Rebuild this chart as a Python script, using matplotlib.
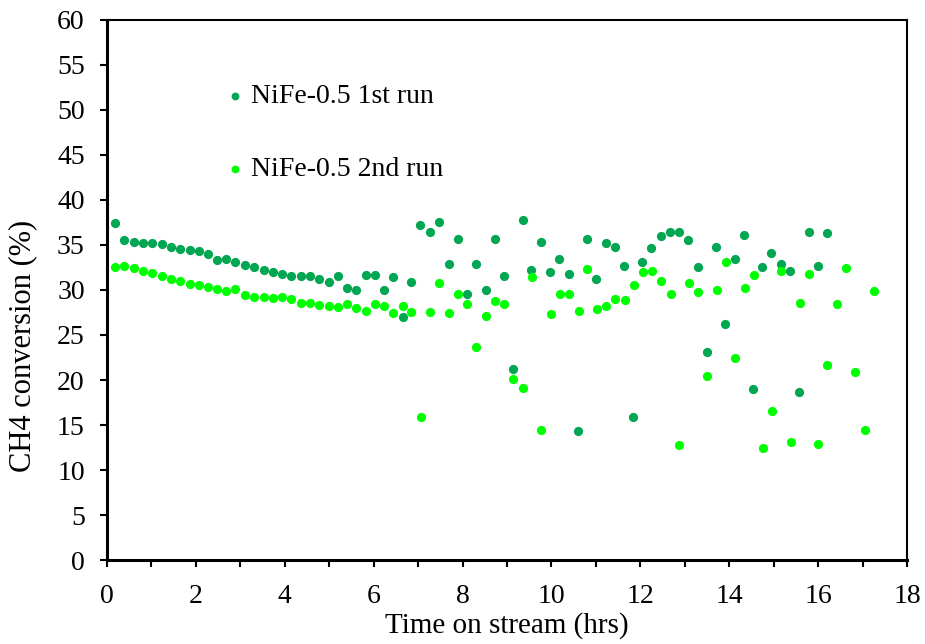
import matplotlib
matplotlib.use('Agg')
from matplotlib import pyplot as plt
from matplotlib.ticker import MultipleLocator

# time on stream (hrs) and CH4 conversion (%)
time_run1 = [0.18, 0.39, 0.60, 0.81, 1.02, 1.23, 1.44, 1.65, 1.86, 2.07,
             2.27, 2.48, 2.68, 2.89, 3.10, 3.31, 3.53, 3.74, 3.94, 4.15,
             4.37, 4.57, 4.78, 4.99, 5.19, 5.40, 5.61, 5.82, 6.03, 6.23,
             6.44, 6.65, 6.85, 7.05, 7.27, 7.48, 7.69, 7.89, 8.10, 8.31,
             8.52, 8.73, 8.93, 9.14, 9.35, 9.55, 9.77, 9.97, 10.18, 10.39,
             10.59, 10.80, 11.01, 11.22, 11.43, 11.63, 11.83, 12.04, 12.25, 12.46,
             12.67, 12.88, 13.08, 13.30, 13.50, 13.70, 13.91, 14.12, 14.33, 14.54,
             14.74, 14.95, 15.17, 15.37, 15.58, 15.79, 16.00, 16.21]
conv_run1 = [37.4, 35.5, 35.3, 35.2, 35.2, 35.1, 34.8, 34.6, 34.4, 34.3,
             34.0, 33.3, 33.4, 33.1, 32.8, 32.6, 32.2, 32.0, 31.8, 31.6,
             31.6, 31.5, 31.2, 30.9, 31.6, 30.2, 30.0, 31.7, 31.7, 30.0,
             31.4, 27.0, 30.9, 37.2, 36.4, 37.6, 32.9, 35.7, 29.5, 32.9,
             30.0, 35.7, 31.6, 21.2, 37.8, 32.2, 35.3, 32.0, 33.4, 31.8,
             14.3, 35.7, 31.2, 35.2, 34.8, 32.7, 15.9, 33.1, 34.7, 36.0,
             36.4, 36.4, 35.6, 32.6, 23.1, 34.8, 26.2, 33.4, 36.1, 19.0,
             32.6, 34.1, 32.9, 32.1, 18.7, 36.4, 32.7, 36.3]

time_run2 = [0.18, 0.39, 0.60, 0.81, 1.02, 1.23, 1.44, 1.65, 1.86, 2.07,
             2.27, 2.48, 2.68, 2.89, 3.10, 3.31, 3.53, 3.74, 3.94, 4.15,
             4.37, 4.57, 4.78, 4.99, 5.19, 5.40, 5.61, 5.82, 6.03, 6.23,
             6.44, 6.65, 6.85, 7.06, 7.27, 7.48, 7.69, 7.90, 8.11, 8.31,
             8.52, 8.73, 8.94, 9.14, 9.35, 9.56, 9.77, 9.98, 10.19, 10.40,
             10.61, 10.81, 11.02, 11.23, 11.44, 11.65, 11.86, 12.06, 12.27, 12.47,
             12.68, 12.88, 13.10, 13.30, 13.51, 13.72, 13.93, 14.14, 14.35, 14.55,
             14.76, 14.96, 15.17, 15.38, 15.59, 15.80, 16.00, 16.21, 16.42, 16.63,
             16.84, 17.05, 17.25]
conv_run2 = [32.6, 32.7, 32.4, 32.1, 31.9, 31.5, 31.2, 31.0, 30.7, 30.5,
             30.3, 30.1, 29.9, 30.1, 29.4, 29.2, 29.2, 29.1, 29.2, 29.0,
             28.6, 28.6, 28.3, 28.2, 28.1, 28.4, 28.0, 27.7, 28.4, 28.2,
             27.4, 28.2, 27.5, 15.9, 27.5, 30.8, 27.4, 29.5, 28.4, 23.7,
             27.1, 28.8, 28.4, 20.1, 19.1, 31.4, 14.4, 27.3, 29.5, 29.6,
             27.7, 32.3, 27.9, 28.2, 29.0, 28.9, 30.6, 32.0, 32.1, 31.0,
             29.6, 12.8, 30.8, 29.8, 20.4, 30.0, 33.1, 22.4, 30.2, 31.7,
             12.4, 16.6, 32.1, 13.1, 28.5, 31.8, 12.9, 21.7, 28.4, 32.4,
             20.9, 14.5, 29.9]

labels = ['NiFe-0.5 1st run', 'NiFe-0.5 2nd run']
colors = ['#00A651', '#00FF00']

plt.rcParams['font.family'] = ['Liberation Serif', 'DejaVu Serif']

fig = plt.figure(figsize=(9.25, 6.44), dpi=100)
ax = fig.add_axes([0.1157, 0.1304, 0.8648, 0.8386])

ax.scatter(time_run1, conv_run1, s=44, color=colors[0], label=labels[0], zorder=3, linewidths=0)
ax.scatter(time_run2, conv_run2, s=44, color=colors[1], label=labels[1], zorder=3, linewidths=0)

ax.set_xlim(0, 18)
ax.set_ylim(0, 60)
ax.xaxis.set_major_locator(MultipleLocator(2))
ax.xaxis.set_minor_locator(MultipleLocator(1))
ax.yaxis.set_major_locator(MultipleLocator(5))

for side in ['left', 'bottom']:
    ax.spines[side].set_linewidth(2.2)
for side in ['top', 'right']:
    ax.spines[side].set_linewidth(1.5)

ax.tick_params(axis='both', which='major', direction='out', length=5, width=1.5,
               labelsize=20, colors='black')
ax.tick_params(axis='x', which='minor', direction='out', length=5, width=1.5)
ax.tick_params(axis='x', which='major', pad=12)
ax.tick_params(axis='y', which='major', pad=11)

ax.set_xlabel('Time on stream (hrs)', fontsize=21)
ax.xaxis.set_label_coords(0.5, -0.096)
ax.set_ylabel('CH4 conversion (%)', fontsize=22)
ax.yaxis.set_label_coords(-0.0875, 0.396)

ax.legend(loc='upper left', bbox_to_anchor=(0.149, 0.882), frameon=False,
          fontsize=20, markerscale=0.85, handletextpad=0.28, labelspacing=1.7,
          handlelength=0.6, borderpad=0, borderaxespad=0)

fig.savefig('out.png', dpi=100)
